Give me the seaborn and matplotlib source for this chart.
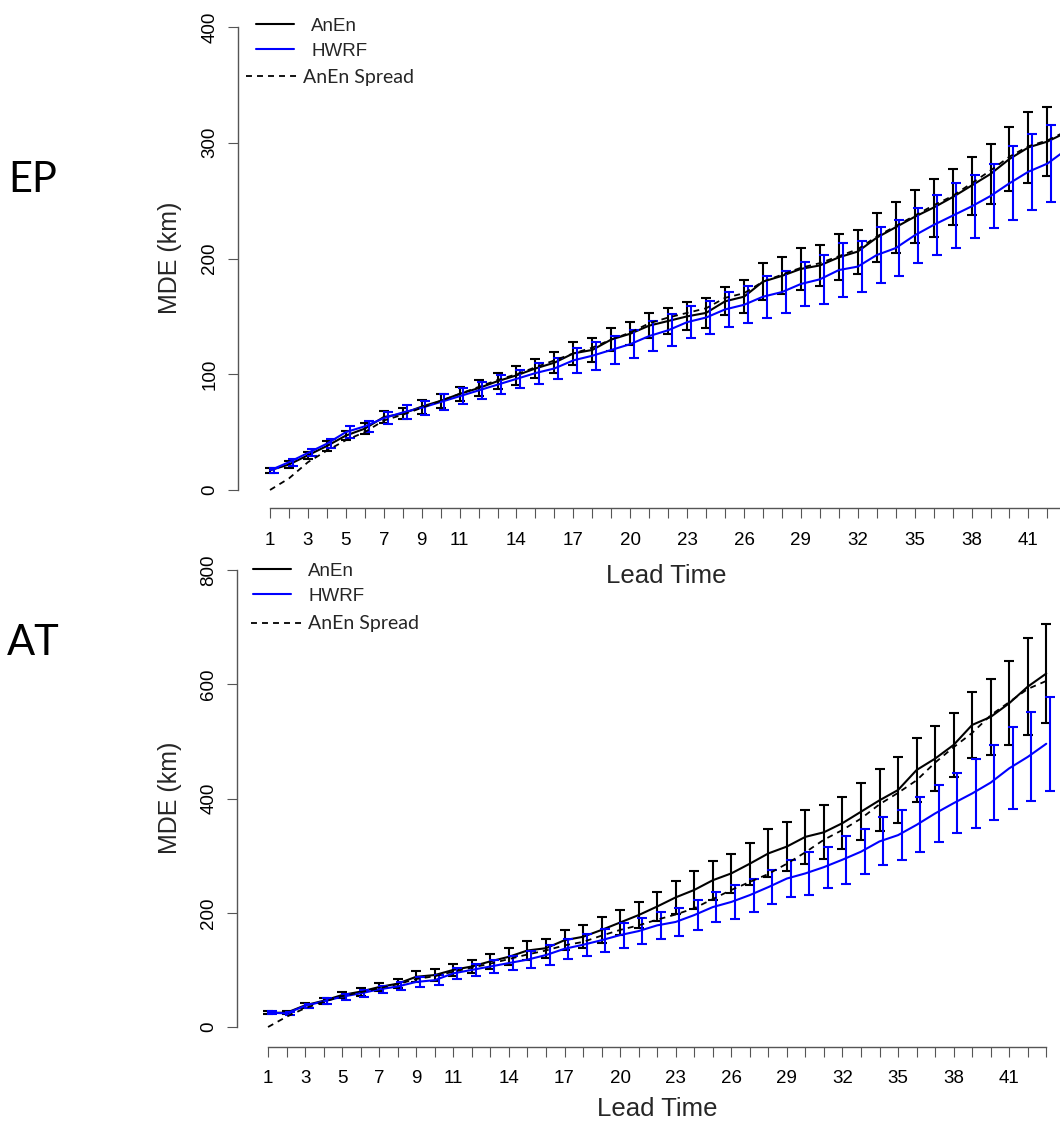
import matplotlib
matplotlib.use("Agg")
import matplotlib.pyplot as plt
import seaborn as sns
import pandas as pd

# ---------------- data ----------------
lead = list(range(1, 44))
x_tick_labels = [1, 3, 5, 7, 9, 11, 14, 17, 20, 23, 26, 29, 32, 35, 38, 41]

ep_anen = [17, 22, 30, 38, 47, 53, 63, 66, 72, 77, 83, 88, 94, 99, 105, 110, 118, 121, 130, 135,
           142, 146, 150, 153, 163, 167, 180, 185, 191, 194, 201, 206, 218, 227, 236, 244, 253, 263,
           273, 286, 296, 301, 309]
ep_anen_err = [2, 3, 3, 4, 4, 5, 5, 5, 6, 6, 6, 7, 7, 8, 8, 9, 10, 10, 10, 10, 11, 11, 12, 13, 12,
               14, 16, 16, 18, 18, 20, 19, 21, 22, 23, 25, 24, 25, 26, 28, 31, 30, 32]
ep_hwrf = [17, 24, 32, 40, 50, 55, 62, 67, 71, 76, 81, 86, 91, 96, 101, 105, 112, 116, 121, 126,
           133, 138, 145, 149, 156, 160, 167, 171, 178, 182, 190, 193, 203, 209, 220, 229, 237, 245,
           254, 265, 275, 282, 294]
ep_hwrf_err = [2, 3, 3, 4, 5, 5, 5, 6, 6, 7, 7, 7, 8, 8, 9, 9, 11, 12, 12, 12, 13, 14, 14, 14, 15,
               16, 18, 18, 19, 21, 23, 22, 24, 24, 24, 26, 28, 27, 28, 32, 33, 33, 34]
ep_spread = [0, 10, 24, 34, 43, 50, 60, 65, 71, 77, 83, 89, 95, 100, 106, 112, 118, 123, 130, 136,
             144, 149, 153, 157, 166, 170, 180, 186, 192, 196, 202, 208, 219, 228, 237, 246, 254,
             265, 276, 288, 297, 302, 310]

at_anen = [25, 25, 38, 46, 56, 62, 70, 76, 88, 91, 100, 106, 115, 123, 134, 138, 152, 158, 170, 183,
           196, 211, 227, 240, 257, 269, 286, 304, 316, 333, 341, 357, 377, 397, 415, 450, 470, 494,
           529, 543, 567, 596, 619]
at_anen_err = [3, 3, 4, 5, 6, 7, 7, 8, 10, 10, 11, 12, 13, 15, 17, 17, 18, 20, 23, 22, 23, 26, 29,
               33, 34, 34, 37, 42, 43, 47, 47, 46, 50, 54, 57, 56, 57, 56, 58, 67, 74, 85, 87]
at_hwrf = [25, 24, 37, 45, 53, 59, 66, 71, 79, 82, 94, 100, 106, 112, 118, 126, 137, 144, 152, 161,
           168, 178, 184, 196, 210, 219, 231, 245, 260, 269, 280, 293, 307, 325, 336, 354, 374, 392,
           409, 428, 453, 473, 496]
at_hwrf_err = [3, 3, 4, 5, 5, 6, 6, 7, 9, 9, 10, 10, 11, 12, 15, 17, 18, 19, 20, 22, 23, 24, 25, 26,
               26, 29, 29, 30, 32, 37, 36, 42, 39, 42, 44, 48, 50, 52, 61, 66, 72, 78, 82]
at_spread = [0, 18, 33, 44, 54, 61, 68, 75, 84, 89, 97, 104, 111, 119, 127, 134, 143, 149, 160, 170,
             178, 188, 197, 208, 224, 240, 254, 268, 286, 306, 328, 345, 365, 390, 410, 432, 463,
             490, 515, 546, 569, 592, 606]

ep_yticks = [0, 100, 200, 300, 400]
at_yticks = [0, 200, 400, 600, 800]

# ---------------- style ----------------
sns.set_style("white")
plt.rcParams["font.family"] = ["Liberation Sans", "DejaVu Sans"]

W, H = 1060, 1122
fig = plt.figure(figsize=(W / 100, H / 100), dpi=100)
fig.patch.set_facecolor("white")

AXC = "#555555"
BLUE = "#0000FF"


def rect(left, right, top, bottom):
    return [left / W, 1 - bottom / H, (right - left) / W, (bottom - top) / H]


panels = [
    dict(name="EP", anen=ep_anen, anen_err=ep_anen_err, hwrf=ep_hwrf, hwrf_err=ep_hwrf_err,
         spread=ep_spread, yticks=ep_yticks, ylim=(-16, 416),
         rect=rect(238.15, 1098.2, 8.5, 508.5),
         xlab=(666, 576), ylab=(170, 258), tag=(33, 192),
         leg1=(256, 38.5, 2.0, 0.95), leg2=(246, 77, 2.78, 0.15)),
    dict(name="AT", anen=at_anen, anen_err=at_anen_err, hwrf=at_hwrf, hwrf_err=at_hwrf_err,
         spread=at_spread, yticks=at_yticks, ylim=(-35, 832),
         rect=rect(236.9, 1077.4, 551.9, 1047.0),
         xlab=(657, 1109), ylab=(170, 798), tag=(33, 655),
         leg1=(253, 583.5, 2.05, 0.9), leg2=(251, 624, 2.78, 0.15)),
]

for p in panels:
    ax = fig.add_axes(p["rect"])
    ax.patch.set_alpha(0)

    sns.lineplot(x=lead, y=p["anen"], ax=ax, color="black", linewidth=1.5, legend=False)
    h_anen = ax.lines[-1]
    ax.errorbar(lead, p["anen"], yerr=p["anen_err"], fmt="none", ecolor="black",
                elinewidth=1.5, capsize=3.6, capthick=1.5)
    sns.lineplot(x=lead, y=p["hwrf"], ax=ax, color=BLUE, linewidth=1.5, legend=False)
    h_hwrf = ax.lines[-1]
    ax.errorbar([l + 0.2 for l in lead], p["hwrf"], yerr=p["hwrf_err"], fmt="none",
                ecolor=BLUE, elinewidth=1.5, capsize=3.6, capthick=1.5)
    sns.lineplot(x=lead, y=p["spread"], ax=ax, color="black", linewidth=1.3,
                 linestyle=(0, (3.3, 2.8)), legend=False)
    h_spread = ax.lines[-1]

    ax.set_xlim(-0.68, 44.68)
    ax.set_ylim(*p["ylim"])
    for s in ["top", "right"]:
        ax.spines[s].set_visible(False)
    for s in ["left", "bottom"]:
        ax.spines[s].set_color(AXC)
        ax.spines[s].set_linewidth(1.0)
    ax.spines["left"].set_bounds(p["yticks"][0], p["yticks"][-1])
    ax.spines["bottom"].set_bounds(lead[0], lead[-1])

    ax.set_xticks(lead)
    ax.set_xticklabels([str(l) if l in x_tick_labels else "" for l in lead])
    ax.set_yticks(p["yticks"])
    ax.set_yticklabels([str(t) for t in p["yticks"]])
    ax.tick_params(axis="both", direction="out", length=7.2, width=0.8, color=AXC,
                   labelsize=13.5, labelcolor="black", left=True, bottom=True)
    ax.tick_params(axis="x", pad=9.5)
    ax.tick_params(axis="y", pad=7)
    for lab in ax.get_yticklabels():
        lab.set_rotation(90)
        lab.set_va("center")
        lab.set_ha("right")
    ax.grid(False)

    # axis titles
    ax.set_xlabel("Lead Time", fontsize=18.5)
    ax.set_ylabel("MDE (km)", fontsize=18)
    ax.xaxis.set_label_coords(p["xlab"][0] / W, 1 - p["xlab"][1] / H, transform=fig.transFigure)
    ax.xaxis.label.set_va("center")
    ax.yaxis.set_label_coords(p["ylab"][0] / W, 1 - p["ylab"][1] / H, transform=fig.transFigure)
    ax.yaxis.label.set_va("center")
    ax.yaxis.label.set_ha("center")

    # legends
    lx, ly, hl, hp = p["leg1"]
    leg1 = ax.legend([h_anen, h_hwrf], ["AnEn", "HWRF"], loc="center left",
                     bbox_to_anchor=(lx / W, 1 - ly / H), bbox_transform=fig.transFigure,
                     frameon=False, borderpad=0, borderaxespad=0, handlelength=hl,
                     handletextpad=hp, labelspacing=0.42, fontsize=13.5)
    ax.add_artist(leg1)
    lx, ly, hl, hp = p["leg2"]
    ax.legend([h_spread], ["AnEn Spread"], loc="center left",
              bbox_to_anchor=(lx / W, 1 - ly / H), bbox_transform=fig.transFigure,
              frameon=False, borderpad=0, borderaxespad=0, handlelength=hl,
              handletextpad=hp, prop={"family": ["Lato", "DejaVu Sans"], "size": 14})

    fig.text(p["tag"][0] / W, 1 - p["tag"][1] / H, p["name"], fontsize=30,
             family=["Lato", "DejaVu Sans"], ha="center", va="baseline", color="black")

fig.savefig("out.png", dpi=100, facecolor="white")
